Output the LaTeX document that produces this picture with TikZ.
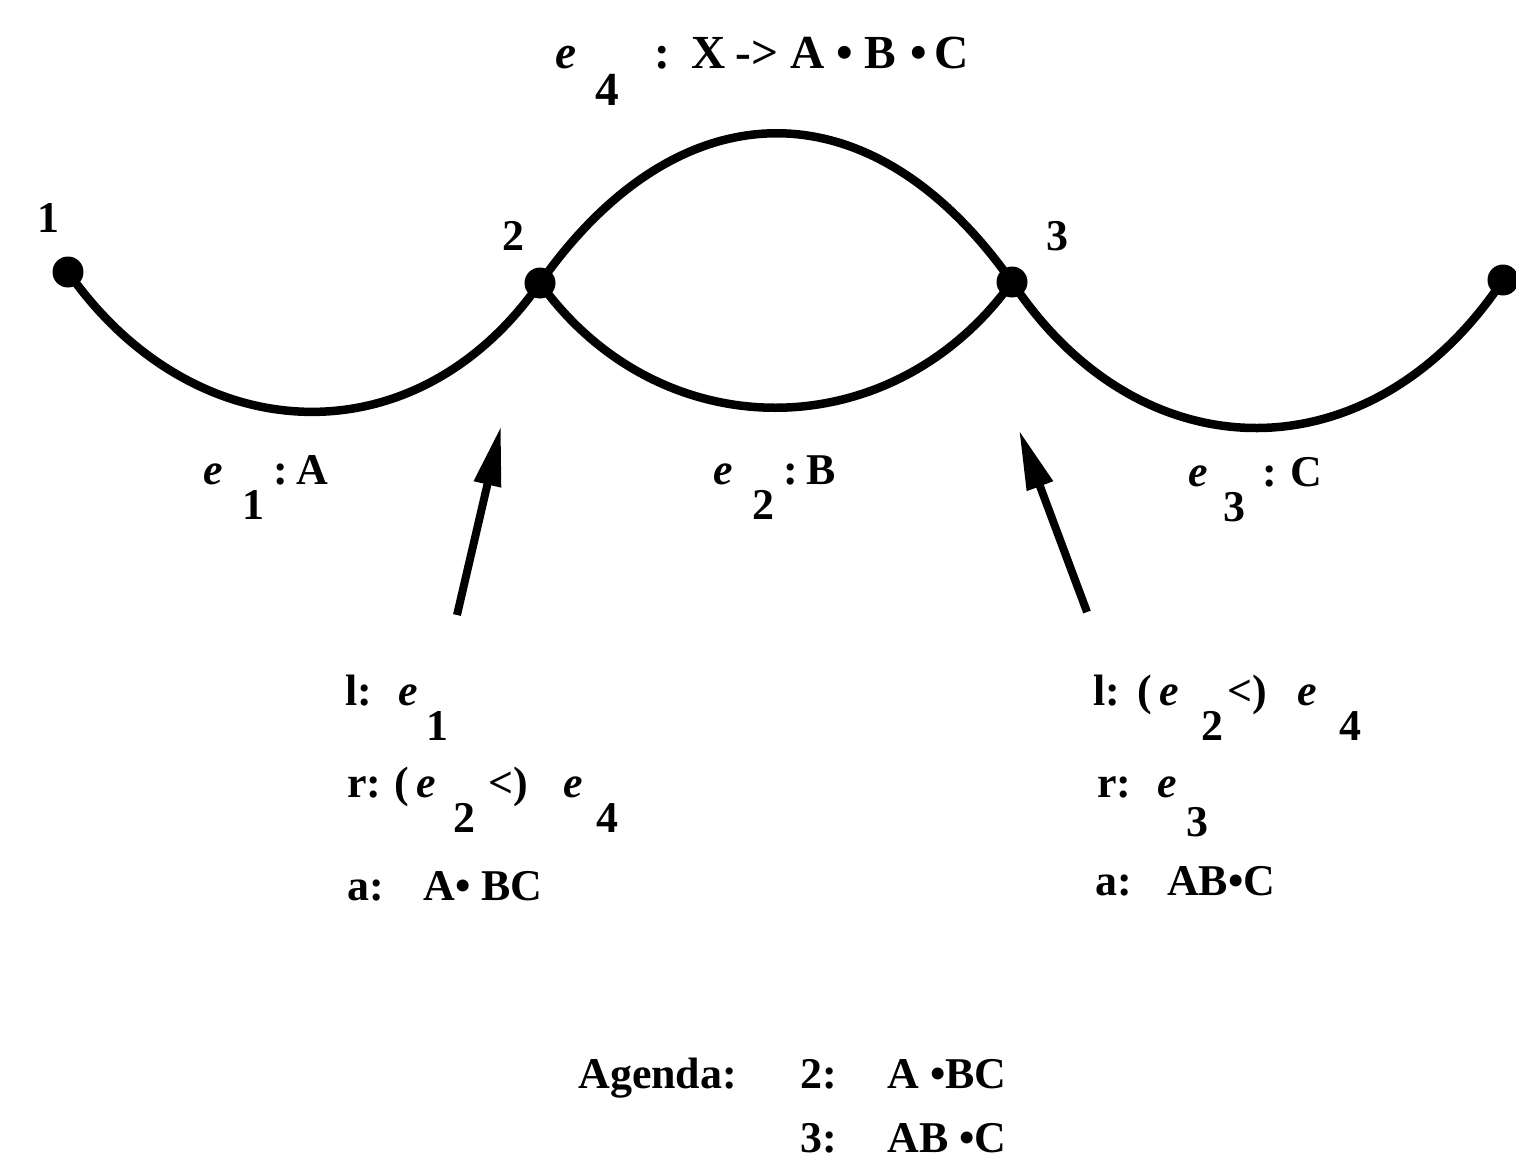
\documentclass[tikz,border=0pt]{standalone}
\usepackage{fontspec}
\setmainfont{Liberation Serif}
\usetikzlibrary{arrows.meta}
\newcommand\ee{\textbf{\textit{e}}}
\newcommand\lsub[1]{\raisebox{-0.8em}{#1}}
\begin{document}
\begin{tikzpicture}[x=0.02cm,y=-0.02cm,
  dot/.style={circle,fill=black,inner sep=0pt,minimum size=0.62cm},
  edge/.style={line width=0.17cm},
  pointer/.style={line width=0.16cm,-{Triangle[length=1.2cm,width=0.52cm]}},
  lbl/.style={anchor=base west,inner sep=0pt,font=\fontsize{25}{30}\selectfont\bfseries},
  num/.style={anchor=base,inner sep=0pt,font=\fontsize{25}{30}\selectfont\bfseries}]
\useasboundingbox (0,0) rectangle (1516,1163);
% vertices
\node[dot] (n1) at (68,272) {};
\node[dot] (n2) at (540,283) {};
\node[dot] (n3) at (1012,282) {};
\node[dot] (n4) at (1503,280) {};
\node[num] (t1) at (48,232) {1};
\node[num] (t2) at (513,250) {2};
\node[num] (t3) at (1057,250) {3};
% edges
\draw[edge] (n1.center) .. controls (193,451) and (415,462) .. (n2.center);
\draw[edge] (n2.center) .. controls (660,450) and (892,449) .. (n3.center);
\draw[edge] (n2.center) .. controls (680,84) and (872,83) .. (n3.center);
\draw[edge] (n3.center) .. controls (1142,478) and (1373,476) .. (n4.center);
% edge labels
\node[lbl,font=\fontsize{27}{30}\selectfont\bfseries] (l4) at (555,68) {\ee\hspace{0.4em}\lsub{4}\hspace{0.75em}:\hspace{0.45em}X\hspace{0.2em}-\textgreater\hspace{0.25em}A\hspace{0.25em}\textbullet\hspace{0.25em}B\hspace{0.3em}\textbullet\hspace{0.15em}C};
\node[lbl] (l1) at (203,484) {\ee\hspace{0.45em}\lsub{1}\hspace{0.2em}:\hspace{0.2em}A};
\node[lbl] (l2) at (713,484) {\ee\hspace{0.45em}\lsub{2}\hspace{0.2em}:\hspace{0.2em}B};
\node[lbl] (l3) at (1188,486) {\ee\hspace{0.35em}\lsub{3}\hspace{0.4em}:\hspace{0.3em}C};
% pointer arrows
\coordinate (a1s) at (457,615);
\coordinate (a1e) at (501,426);
\coordinate (a2s) at (1087,612);
\coordinate (a2e) at (1019,430);
\draw[pointer] (a1s) -- (a1e);
\draw[pointer] (a2s) -- (a2e);
% left info block
\node[lbl] (bl1) at (345,705) {l:\hspace{0.6em}\ee\hspace{0.2em}\lsub{1}};
\node[lbl] (bl2) at (347,797) {r:\hspace{0.3em}(\,\ee\hspace{0.4em}\lsub{2}\hspace{0.3em}\textless)\hspace{0.8em}\ee\hspace{0.3em}\lsub{4}};
\node[lbl] (bl3) at (347,900) {a:\hspace{0.9em}A\textbullet\ BC};
% right info block
\node[lbl] (br1) at (1093,705) {l:\hspace{0.4em}(\,\ee\hspace{0.5em}\lsub{2}\hspace{0.1em}\textless)\hspace{0.7em}\ee\hspace{0.5em}\lsub{4}};
\node[lbl] (br2) at (1097,797) {r:\hspace{0.6em}\ee\hspace{0.2em}\raisebox{-0.9em}{3}};
\node[lbl] (br3) at (1095,895) {a:\hspace{0.8em}AB\textbullet C};
% agenda
\node[lbl] (ag) at (578,1088) {Agenda:};
\node[lbl] (ag2) at (800,1088) {2:};
\node[lbl] (ag2t) at (887,1088) {A \textbullet BC};
\node[lbl] (ag3) at (800,1152) {3:};
\node[lbl] (ag3t) at (887,1152) {AB \textbullet C};
\end{tikzpicture}
\end{document}
